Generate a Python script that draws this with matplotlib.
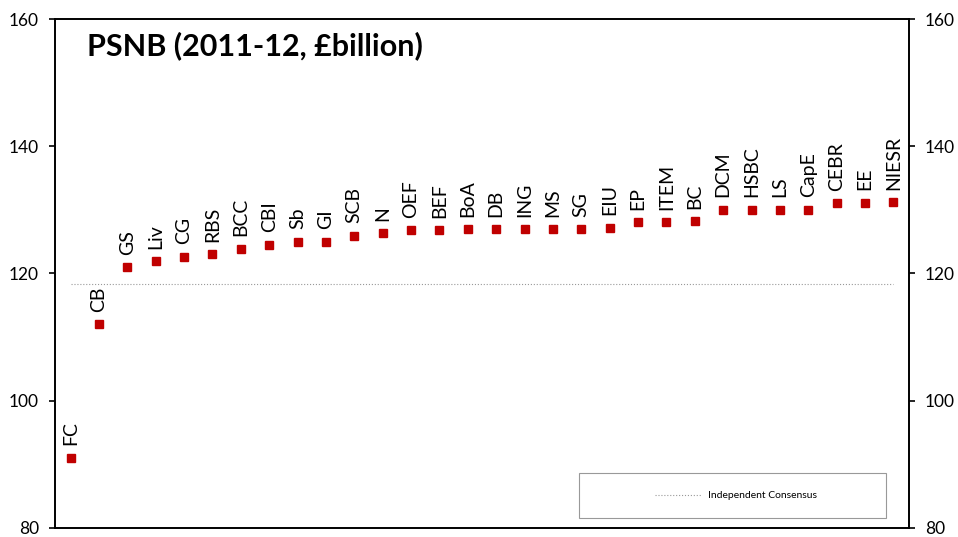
import matplotlib
matplotlib.use('Agg')
import matplotlib.pyplot as plt
from matplotlib.patches import Rectangle

plt.rcParams['font.family'] = ['Lato', 'DejaVu Sans']

# forecasters, sorted by PSNB forecast
names = ['FC', 'CB', 'GS', 'Liv', 'CG', 'RBS', 'BCC', 'CBI', 'Sb', 'GI',
         'SCB', 'N', 'OEF', 'BEF', 'BoA', 'DB', 'ING', 'MS', 'SG', 'EIU',
         'EP', 'ITEM', 'BC', 'DCM', 'HSBC', 'LS', 'CapE', 'CEBR', 'EE', 'NIESR']
psnb = [91.0, 112.0, 121.0, 121.9, 122.6, 123.0, 123.9, 124.5, 125.0, 125.0,
        125.9, 126.3, 126.8, 126.8, 126.9, 126.9, 126.9, 126.9, 126.9, 127.2,
        128.0, 128.0, 128.2, 130.0, 130.0, 130.0, 130.0, 131.0, 131.1, 131.2]
consensus = 118.3

x = list(range(len(names)))

fig = plt.figure(figsize=(9.58, 5.37), dpi=100)
ax = fig.add_axes([0.0574, 0.0173, 0.8915, 0.9473])

ax.plot(x, psnb, linestyle='none', marker='s', markersize=6,
        color='#C00000', zorder=3)
ax.plot([x[0], x[-1]], [consensus, consensus], linestyle=':', linewidth=0.8,
        color='#999999', label='Independent Consensus')

for xi, yi, name in zip(x, psnb, names):
    ax.annotate(name, (xi, yi), xytext=(0, 9), textcoords='offset points',
                rotation=90, ha='center', va='bottom', fontsize=14)

ax.set_xlim(-0.55, len(names) - 0.45)
ax.set_ylim(80, 160)
ax.set_yticks([80, 100, 120, 140, 160])
ax.set_xticks([])
ax.tick_params(axis='y', direction='out', length=4.5, width=1.2, pad=7,
               labelsize=12.5, left=True, right=True,
               labelleft=True, labelright=True)
for s in ax.spines.values():
    s.set_linewidth(1.4)

ax.text(0.0375, 0.929, 'PSNB (2011-12, £billion)', transform=ax.transAxes,
        fontsize=22, fontweight='bold', va='baseline')

# legend box
ax.add_patch(Rectangle((0.614, 0.019), 0.359, 0.088, transform=ax.transAxes,
                       fill=False, edgecolor='#999999', linewidth=0.8))
ax.legend(loc='center', bbox_to_anchor=(0.797, 0.063), frameon=False,
          fontsize=7.5, handlelength=4.5, handletextpad=0.6)

fig.savefig('out.png', dpi=100)
